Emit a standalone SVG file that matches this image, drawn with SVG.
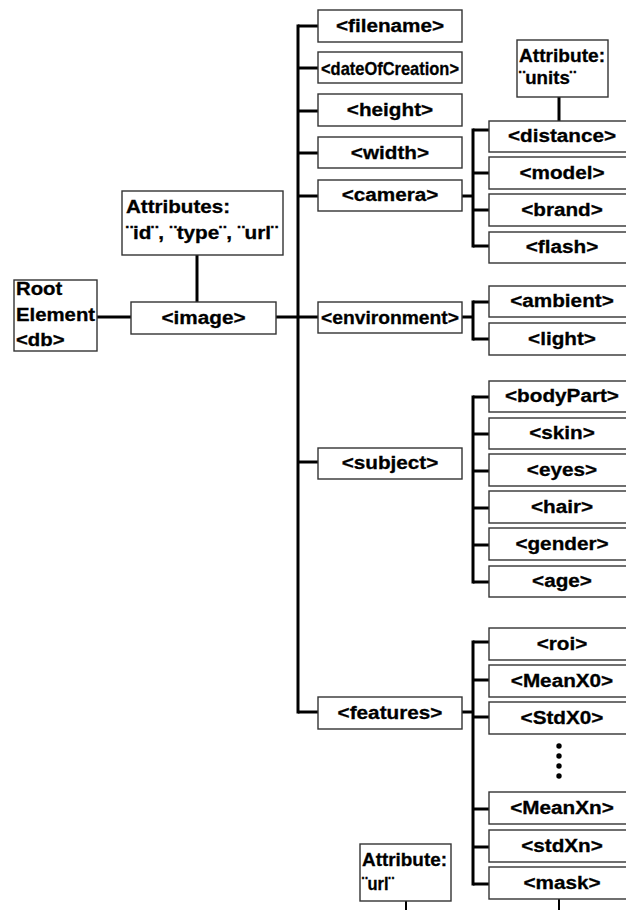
<svg xmlns="http://www.w3.org/2000/svg" width="626" height="910" viewBox="0 0 626 910">
<style>
.box { fill: #ffffff; stroke: #333333; stroke-width: 1.4; }
.ln { stroke: #000000; stroke-width: 3; fill: none; stroke-linecap: butt; }
.ln2 { stroke: #000000; stroke-width: 2; fill: none; }
text { font-family: "Liberation Sans", Arial, sans-serif; font-weight: bold; font-size: 18.5px; fill: #000; stroke: #000; stroke-width: 0.3px; }
.c { text-anchor: middle; transform-box: fill-box; transform-origin: center; transform: scaleX(1.12); }
.cf { text-anchor: middle; }
.l { text-anchor: start; transform-box: fill-box; transform-origin: left; transform: scaleX(1.1); }
.lf { text-anchor: start; }
</style>
<rect x="0" y="0" width="626" height="910" fill="#ffffff"/>

<g id="connectors">
  <line class="ln" x1="97" y1="317" x2="131" y2="317"/>
  <line class="ln" x1="197" y1="255" x2="197" y2="302"/>
  <line class="ln" x1="276" y1="317" x2="318" y2="317"/>
  <line class="ln" x1="298" y1="24.5" x2="298" y2="713.5"/>
  <line class="ln" x1="298" y1="26" x2="318" y2="26"/>
  <line class="ln" x1="298" y1="68" x2="318" y2="68"/>
  <line class="ln" x1="298" y1="111" x2="318" y2="111"/>
  <line class="ln" x1="298" y1="153" x2="318" y2="153"/>
  <line class="ln" x1="298" y1="196" x2="318" y2="196"/>
  <line class="ln" x1="298" y1="462" x2="318" y2="462"/>
  <line class="ln" x1="298" y1="712" x2="318" y2="712"/>
  <line class="ln" x1="462" y1="196" x2="473" y2="196"/>
  <line class="ln" x1="473" y1="128.5" x2="473" y2="247.5"/>
  <line class="ln" x1="473" y1="130" x2="489" y2="130"/>
  <line class="ln" x1="473" y1="173" x2="489" y2="173"/>
  <line class="ln" x1="473" y1="210" x2="489" y2="210"/>
  <line class="ln" x1="473" y1="246" x2="489" y2="246"/>
  <line class="ln" x1="559" y1="97" x2="559" y2="121"/>
  <line class="ln" x1="462" y1="317" x2="473" y2="317"/>
  <line class="ln" x1="473" y1="300.5" x2="473" y2="340.5"/>
  <line class="ln" x1="473" y1="302" x2="489" y2="302"/>
  <line class="ln" x1="473" y1="339" x2="489" y2="339"/>
  <line class="ln" x1="473" y1="395.5" x2="473" y2="583.5"/>
  <line class="ln" x1="473" y1="397" x2="489" y2="397"/>
  <line class="ln" x1="473" y1="434" x2="489" y2="434"/>
  <line class="ln" x1="473" y1="471" x2="489" y2="471"/>
  <line class="ln" x1="473" y1="508" x2="489" y2="508"/>
  <line class="ln" x1="473" y1="545" x2="489" y2="545"/>
  <line class="ln" x1="473" y1="582" x2="489" y2="582"/>
  <line class="ln" x1="462" y1="712" x2="473" y2="712"/>
  <line class="ln" x1="473" y1="640.5" x2="473" y2="885.5"/>
  <line class="ln" x1="473" y1="642" x2="489" y2="642"/>
  <line class="ln" x1="473" y1="680" x2="489" y2="680"/>
  <line class="ln" x1="473" y1="717" x2="489" y2="717"/>
  <line class="ln" x1="473" y1="809" x2="489" y2="809"/>
  <line class="ln" x1="473" y1="847" x2="489" y2="847"/>
  <line class="ln" x1="473" y1="884" x2="489" y2="884"/>
  <line class="ln2" x1="559" y1="899" x2="559" y2="910"/>
  <line class="ln2" x1="406" y1="901" x2="406" y2="910"/>
</g>

<g id="root">
  <rect class="box" x="14" y="280" width="83" height="71"/>
  <text class="l" x="16" y="295">Root</text>
  <text class="l" x="16" y="321">Element</text>
  <text class="l" x="16" y="346">&lt;db&gt;</text>
</g>
<g id="image-attributes">
  <rect class="box" x="122" y="191" width="161" height="64"/>
  <text class="lf" x="126" y="213" textLength="104" lengthAdjust="spacingAndGlyphs">Attributes:</text>
  <text class="lf" x="126" y="239" textLength="152" lengthAdjust="spacingAndGlyphs">¨id¨, ¨type¨, ¨url¨</text>
</g>
<g id="image">
  <rect class="box" x="131" y="302" width="145" height="32"/>
  <text class="c" x="203.5" y="324.5">&lt;image&gt;</text>
</g>

<g id="filename">
  <rect class="box" x="318" y="10" width="144" height="32"/>
  <text class="c" x="390" y="32.5">&lt;filename&gt;</text>
</g>
<g id="dateOfCreation">
  <rect class="box" x="318" y="52" width="144" height="31"/>
  <text class="cf" x="390" y="74.5" textLength="138" lengthAdjust="spacingAndGlyphs">&lt;dateOfCreation&gt;</text>
</g>
<g id="height">
  <rect class="box" x="318" y="94" width="144" height="32"/>
  <text class="c" x="390" y="116.5">&lt;height&gt;</text>
</g>
<g id="width">
  <rect class="box" x="318" y="137" width="144" height="31"/>
  <text class="c" x="390" y="159.5">&lt;width&gt;</text>
</g>
<g id="camera">
  <rect class="box" x="318" y="180" width="144" height="31"/>
  <text class="c" x="390" y="201.5">&lt;camera&gt;</text>
</g>
<g id="environment">
  <rect class="box" x="318" y="302" width="144" height="31"/>
  <text class="cf" x="390" y="323.5" textLength="138" lengthAdjust="spacingAndGlyphs">&lt;environment&gt;</text>
</g>
<g id="subject">
  <rect class="box" x="318" y="448" width="144" height="31"/>
  <text class="c" x="390" y="469.5">&lt;subject&gt;</text>
</g>
<g id="features">
  <rect class="box" x="318" y="697" width="144" height="32"/>
  <text class="c" x="390" y="719.5">&lt;features&gt;</text>
</g>

<g id="units-attribute">
  <rect class="box" x="517" y="40" width="91" height="57"/>
  <text class="lf" x="519" y="61.5" textLength="86" lengthAdjust="spacingAndGlyphs">Attribute:</text>
  <text class="lf" x="519" y="83.5" textLength="57" lengthAdjust="spacingAndGlyphs">¨units¨</text>
</g>
<g id="distance">
  <rect class="box" x="489" y="121" width="146" height="31"/>
  <text class="c" x="562" y="142.5">&lt;distance&gt;</text>
</g>
<g id="model">
  <rect class="box" x="489" y="157" width="146" height="32"/>
  <text class="c" x="562" y="179.5">&lt;model&gt;</text>
</g>
<g id="brand">
  <rect class="box" x="489" y="194" width="146" height="32"/>
  <text class="c" x="562" y="216.5">&lt;brand&gt;</text>
</g>
<g id="flash">
  <rect class="box" x="489" y="232" width="146" height="31"/>
  <text class="c" x="562" y="253.5">&lt;flash&gt;</text>
</g>

<g id="ambient">
  <rect class="box" x="489" y="286" width="146" height="31"/>
  <text class="c" x="562" y="307.5">&lt;ambient&gt;</text>
</g>
<g id="light">
  <rect class="box" x="489" y="323" width="146" height="32"/>
  <text class="c" x="562" y="345.5">&lt;light&gt;</text>
</g>

<g id="bodyPart">
  <rect class="box" x="489" y="381" width="146" height="31"/>
  <text class="c" x="562" y="402.5">&lt;bodyPart&gt;</text>
</g>
<g id="skin">
  <rect class="box" x="489" y="418" width="146" height="31"/>
  <text class="c" x="562" y="439.5">&lt;skin&gt;</text>
</g>
<g id="eyes">
  <rect class="box" x="489" y="454" width="146" height="32"/>
  <text class="c" x="562" y="476.5">&lt;eyes&gt;</text>
</g>
<g id="hair">
  <rect class="box" x="489" y="491" width="146" height="32"/>
  <text class="c" x="562" y="513.5">&lt;hair&gt;</text>
</g>
<g id="gender">
  <rect class="box" x="489" y="528" width="146" height="32"/>
  <text class="c" x="562" y="550.5">&lt;gender&gt;</text>
</g>
<g id="age">
  <rect class="box" x="489" y="566" width="146" height="31"/>
  <text class="c" x="562" y="587.5">&lt;age&gt;</text>
</g>

<g id="roi">
  <rect class="box" x="489" y="628" width="146" height="32"/>
  <text class="c" x="562" y="650.5">&lt;roi&gt;</text>
</g>
<g id="MeanX0">
  <rect class="box" x="489" y="665" width="146" height="32"/>
  <text class="c" x="562" y="687.5">&lt;MeanX0&gt;</text>
</g>
<g id="StdX0">
  <rect class="box" x="489" y="702" width="146" height="32"/>
  <text class="c" x="562" y="724.5">&lt;StdX0&gt;</text>
</g>
<g id="ellipsis">
  <circle cx="559" cy="746" r="2.7" fill="#000"/>
  <circle cx="559" cy="756" r="2.7" fill="#000"/>
  <circle cx="559" cy="766" r="2.7" fill="#000"/>
  <circle cx="559" cy="776" r="2.7" fill="#000"/>
</g>
<g id="MeanXn">
  <rect class="box" x="489" y="792" width="146" height="32"/>
  <text class="c" x="562" y="814.5">&lt;MeanXn&gt;</text>
</g>
<g id="stdXn">
  <rect class="box" x="489" y="830" width="146" height="32"/>
  <text class="c" x="562" y="852.5">&lt;stdXn&gt;</text>
</g>
<g id="mask">
  <rect class="box" x="489" y="867" width="146" height="32"/>
  <text class="c" x="562" y="889.5">&lt;mask&gt;</text>
</g>

<g id="url-attribute">
  <rect class="box" x="360" y="844" width="91" height="57"/>
  <text class="lf" x="362" y="865.5" textLength="85" lengthAdjust="spacingAndGlyphs">Attribute:</text>
  <text class="lf" x="362" y="889.5" textLength="32" lengthAdjust="spacingAndGlyphs">¨url¨</text>
</g>
</svg>
